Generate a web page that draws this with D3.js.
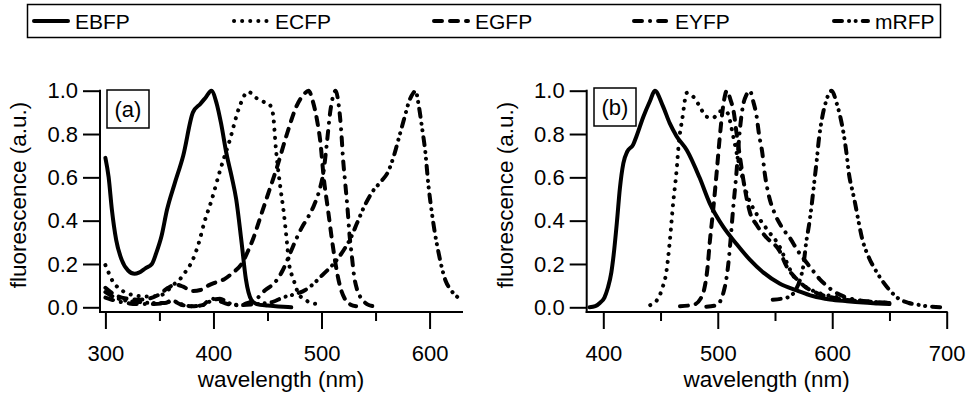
<!DOCTYPE html>
<html><head><meta charset="utf-8">
<script src="https://cdn.jsdelivr.net/npm/d3@7"></script>
<style>
html,body{margin:0;padding:0;background:#fff;}
svg text{font-family:"Liberation Sans",Arial,Helvetica,sans-serif;fill:#000;}
</style></head>
<body>
<svg id="chart" width="969" height="394"></svg>
<script>
// ---------- DATA ----------
const seriesNames = ["EBFP", "ECFP", "EGFP", "EYFP", "mRFP"];
const yTicks = [0.0, 0.2, 0.4, 0.6, 0.8, 1.0];
const xTicksA = [300, 400, 500, 600];
const xMinorA = [350, 450, 550];
const xTicksB = [400, 500, 600, 700];
const xMinorB = [450, 550, 650];
const panelLabels = ["(a)", "(b)"];

// panel (a) : [wavelength nm, fluorescence a.u.]
const ebfpA = [[300,0.69],[303,0.6],[306,0.45],[310,0.31],[315,0.22],[321,0.17],[327,0.155],[331,0.16],[337,0.18],[343,0.2],[347,0.25],[352,0.33],[357,0.45],[364,0.57],[372,0.7],[381,0.9],[388,0.94],[393,0.97],[398,1.0],[403,0.94],[407,0.85],[412,0.71],[417,0.6],[421,0.5],[426,0.3],[430,0.13],[435,0.035],[440,0.015],[450,0.008],[460,0.004],[472,0.0]];
const ecfpA = [[300,0.195],[303,0.16],[307,0.118],[312,0.09],[320,0.065],[327,0.055],[337,0.05],[348,0.052],[355,0.065],[362,0.1],[369,0.13],[375,0.17],[380,0.21],[386,0.29],[392,0.4],[398,0.49],[406,0.63],[415,0.77],[424,0.925],[432,0.995],[440,0.965],[448,0.945],[452,0.935],[455,0.895],[458,0.72],[462,0.55],[465,0.44],[468,0.3],[470,0.2],[474,0.13],[479,0.06],[485,0.035],[490,0.02],[497,0.015]];
const egfpA = [[300,0.09],[305,0.07],[312,0.05],[320,0.04],[330,0.035],[340,0.04],[350,0.06],[358,0.09],[365,0.105],[372,0.095],[380,0.075],[388,0.08],[395,0.1],[402,0.115],[410,0.13],[418,0.16],[426,0.2],[432,0.26],[437,0.32],[443,0.41],[449,0.5],[459,0.65],[468,0.8],[477,0.93],[484,0.985],[488,1.0],[492,0.95],[496,0.86],[499,0.76],[502,0.6],[506,0.45],[510,0.3],[513,0.2],[517,0.1],[522,0.035],[527,0.012],[532,0.005]];
const eyfpA = [[300,0.045],[306,0.035],[314,0.025],[322,0.018],[332,0.015],[345,0.015],[355,0.02],[362,0.03],[370,0.012],[380,0.005],[390,0.01],[398,0.04],[405,0.03],[413,0.015],[422,0.01],[432,0.02],[440,0.04],[448,0.08],[456,0.11],[464,0.17],[471,0.25],[477,0.32],[482,0.37],[488,0.42],[493,0.47],[498,0.54],[502,0.63],[505,0.76],[508,0.9],[511,0.98],[513,1.0],[516,0.93],[518,0.83],[520,0.68],[522,0.57],[524,0.46],[526,0.33],[528,0.24],[530,0.15],[533,0.08],[537,0.04],[542,0.015],[548,0.005]];
const mrfpA = [[300,0.07],[305,0.055],[312,0.04],[320,0.03],[330,0.025],[342,0.02],[355,0.02],[362,0.03],[370,0.015],[380,0.005],[390,0.01],[398,0.03],[406,0.04],[414,0.02],[425,0.01],[440,0.015],[455,0.025],[464,0.045],[475,0.06],[485,0.08],[494,0.115],[501,0.15],[511,0.2],[520,0.26],[527,0.32],[533,0.39],[540,0.47],[548,0.54],[555,0.58],[562,0.63],[567,0.7],[572,0.79],[577,0.88],[581,0.95],[585,0.99],[587,1.0],[590,0.93],[593,0.83],[596,0.72],[599,0.56],[602,0.44],[605,0.34],[608,0.26],[611,0.19],[615,0.12],[619,0.085],[623,0.06],[628,0.04],[630,0.035]];

// panel (b)
const ebfpB = [[388,0.0],[393,0.005],[397,0.02],[401,0.045],[404,0.09],[407,0.16],[409,0.24],[412,0.4],[414.5,0.55],[417.5,0.665],[421,0.72],[426,0.75],[429,0.79],[435,0.88],[441,0.955],[445,1.0],[452,0.93],[458,0.85],[464,0.79],[473,0.725],[484,0.6],[493,0.48],[505,0.37],[516,0.295],[528,0.22],[540,0.16],[554,0.11],[569,0.078],[583,0.052],[598,0.036],[613,0.028],[627,0.022],[640,0.018],[650,0.015]];
const ecfpB = [[441,0.01],[447,0.034],[452,0.095],[455,0.16],[458,0.3],[461,0.48],[464,0.63],[466,0.76],[469,0.87],[473,0.99],[479,0.97],[484,0.93],[490,0.88],[496,0.875],[502,0.905],[508,0.9],[513.5,0.79],[517,0.7],[521,0.61],[525,0.53],[534,0.43],[543,0.36],[554,0.28],[560,0.21],[566,0.145],[572,0.11],[578,0.09],[589,0.065],[601,0.05],[618,0.035],[635,0.025],[650,0.02]];
const egfpB = [[467,0.005],[479,0.012],[485,0.04],[488,0.08],[491,0.18],[493,0.3],[496,0.45],[499,0.62],[502,0.8],[505,0.94],[508,1.0],[511,0.96],[514,0.9],[516.5,0.8],[519.5,0.69],[522,0.6],[525,0.51],[528,0.44],[534,0.38],[543,0.32],[554,0.26],[560,0.19],[569,0.13],[575,0.1],[587,0.065],[600,0.045],[620,0.03],[635,0.025],[650,0.02]];
const eyfpB = [[490,0.003],[499,0.01],[506,0.09],[509,0.19],[511,0.3],[513.5,0.46],[516,0.6],[519.5,0.83],[522,0.93],[525,0.98],[528,1.0],[531,0.95],[534,0.88],[536,0.8],[539,0.71],[541,0.62],[544,0.53],[550,0.43],[556,0.37],[563,0.32],[570,0.26],[577,0.21],[583,0.17],[589,0.13],[595,0.1],[601,0.075],[610,0.05],[620,0.035],[635,0.025],[650,0.02]];
const mrfpB = [[548,0.035],[556,0.04],[563,0.05],[568,0.08],[572,0.13],[575,0.2],[577,0.29],[580,0.39],[582,0.47],[583.5,0.54],[585,0.61],[586.5,0.68],[588,0.76],[591,0.87],[594,0.94],[599.5,1.0],[604,0.94],[607,0.88],[610,0.8],[612.5,0.71],[614.5,0.62],[618,0.53],[620,0.48],[622.5,0.41],[626,0.32],[632,0.23],[638,0.17],[644,0.12],[650,0.08],[658,0.04],[667,0.02],[677,0.01],[686,0.003],[700,0.0]];

const dataA = [ebfpA, ecfpA, egfpA, eyfpA, mrfpA];
const dataB = [ebfpB, ecfpB, egfpB, eyfpB, mrfpB];

// ---------- STYLES ----------
const styles = [
  {w:4, dash:null, cap:"round"},
  {w:4, dash:"0.1,8", cap:"round"},
  {w:4, dash:"8,8", cap:"round"},
  {w:4, dash:"8,8,0.1,8", cap:"round"},
  {w:4, dash:"8,7,0.1,6.5,0.1,7", cap:"round"}
];

const svg = d3.select("#chart");
const FS = 22;

const y = d3.scaleLinear().domain([0,1]).range([307.3, 90.7]);

const panels = [
  {x: d3.scaleLinear().domain([295,630]).range([100,462]), data:dataA, major:xTicksA, minor:xMinorA, label:panelLabels[0], labelBox:[107,90,42,38]},
  {x: d3.scaleLinear().domain([385.5,700]).range([586.7,946.7]), data:dataB, major:xTicksB, minor:xMinorB, label:panelLabels[1], labelBox:[594,88,42,38]}
];

panels.forEach(p => {
  const g = svg.append("g");
  const x0 = p.x.range()[0], x1 = p.x.range()[1];
  const axisY = 312;
  const line = d3.line().x(d=>p.x(d[0])).y(d=>y(d[1])).curve(d3.curveMonotoneX);
  p.data.forEach((ser,i) => {
    const st = styles[i];
    g.append("path").datum(ser).attr("d", line)
      .attr("fill","none").attr("stroke","#000")
      .attr("stroke-width", st.w).attr("stroke-linecap", st.cap).attr("stroke-linejoin","round")
      .attr("stroke-dasharray", st.dash);
  });
  // y axis
  g.append("line").attr("x1",x0).attr("x2",x0).attr("y1",y(1)-1).attr("y2",axisY+1)
    .attr("stroke","#000").attr("stroke-width",2);
  const yAx = d3.axisLeft(y).tickValues(yTicks).tickFormat(d3.format(".1f")).tickSize(17).tickPadding(5);
  const ya = g.append("g").attr("transform",`translate(${x0},0)`).call(yAx);
  ya.select(".domain").remove();
  ya.selectAll(".tick line").attr("stroke-width",2);
  ya.selectAll(".tick text").attr("font-size",FS).attr("font-family","Liberation Sans, Arial, sans-serif");
  // x axis
  g.append("line").attr("x1",x0-1).attr("x2",x1+1).attr("y1",axisY).attr("y2",axisY)
    .attr("stroke","#000").attr("stroke-width",2);
  const xAx = d3.axisBottom(p.x).tickValues(p.major).tickSize(17).tickPadding(16);
  const xa = g.append("g").attr("transform",`translate(0,${axisY})`).call(xAx);
  xa.select(".domain").remove();
  xa.selectAll(".tick line").attr("stroke-width",2);
  xa.selectAll(".tick text").attr("font-size",FS).attr("font-family","Liberation Sans, Arial, sans-serif");
  const xm = d3.axisBottom(p.x).tickValues(p.minor).tickSize(9).tickFormat("");
  const xma = g.append("g").attr("transform",`translate(0,${axisY})`).call(xm);
  xma.select(".domain").remove();
  xma.selectAll(".tick line").attr("stroke-width",2);
  // axis titles
  g.append("text").attr("x",(x0+x1)/2).attr("y",387).attr("text-anchor","middle")
    .attr("font-size",FS+0.5).text("wavelength (nm)");
  g.append("text").attr("transform",`translate(${x0-74},195) rotate(-90)`).attr("text-anchor","middle")
    .attr("font-size",FS+0.5).text("fluorescence (a.u.)");
  // panel label box
  const b = p.labelBox;
  g.append("rect").attr("x",b[0]).attr("y",b[1]).attr("width",b[2]).attr("height",b[3])
    .attr("fill","#fff").attr("stroke","#000").attr("stroke-width",1.5);
  g.append("text").attr("x",b[0]+b[2]/2).attr("y",b[1]+b[3]/2+7.5).attr("text-anchor","middle")
    .attr("font-size",FS).text(p.label);
});

// ---------- LEGEND ----------
const lg = svg.append("g");
lg.append("rect").attr("x",27.5).attr("y",4.5).attr("width",913).attr("height",33)
  .attr("fill","#fff").attr("stroke","#000").attr("stroke-width",1.5);
seriesNames.forEach((n,i) => {
  const xs = 34 + i*200;
  const st = styles[i];
  lg.append("line").attr("x1",xs).attr("x2",xs+34).attr("y1",21).attr("y2",21)
    .attr("stroke","#000").attr("stroke-width",st.w).attr("stroke-linecap",st.cap)
    .attr("stroke-dasharray",st.dash);
  lg.append("text").attr("x",xs+41).attr("y",29).attr("font-size",21).text(n);
});
</script>
</body></html>
